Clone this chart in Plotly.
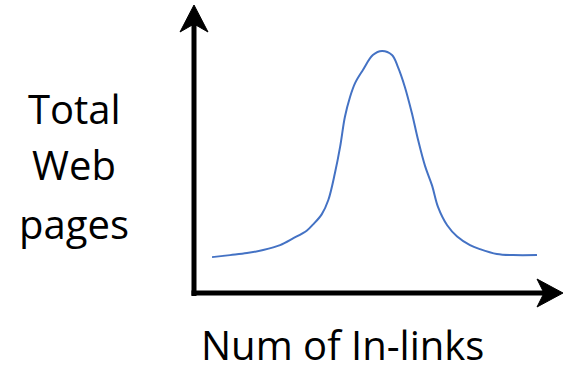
import plotly.graph_objects as go

# ---- data (schematic curve: number of in-links vs total web pages) ----
in_links = [0.49, 0.98, 1.44, 1.88, 2.34, 2.69, 3.07, 3.23, 3.47, 3.65, 3.83, 3.97, 4.10,
            4.24, 4.38, 4.59, 4.86, 5.11, 5.38, 5.54, 5.73, 5.92, 6.09, 6.28, 6.47, 6.63,
            6.88, 7.15, 7.50, 7.77, 8.23, 8.67, 9.32]
total_pages = [1.25, 1.32, 1.39, 1.50, 1.67, 1.90, 2.18, 2.38, 2.74, 3.24, 4.18, 5.09, 6.13,
               6.83, 7.32, 7.77, 8.29, 8.43, 8.29, 7.88, 7.18, 6.27, 5.33, 4.42, 3.74, 3.00,
               2.36, 1.97, 1.67, 1.53, 1.36, 1.32, 1.32]

x_label = "Num of In-links"
y_label_lines = ["Total", "Web", "pages"]

W, H = 570, 371
L, R, T, B = 194, 8, 6, 78          # plot area: x 194..562, y 6..293
PW, PH = W - L - R, H - T - B


def px(xp):
    return (xp - L) / PW


def py(yp):
    return (T + PH - yp) / PH


fig = go.Figure()
fig.add_trace(go.Scatter(x=in_links, y=total_pages, mode="lines",
                         line=dict(color="#4472C4", width=2, shape="spline", smoothing=1.0),
                         hoverinfo="skip", showlegend=False))

shapes = []
# axis shafts
shapes.append(dict(type="line", xref="paper", yref="paper",
                   x0=px(194), y0=py(296), x1=px(194), y1=py(24),
                   line=dict(color="black", width=5)))
shapes.append(dict(type="line", xref="paper", yref="paper",
                   x0=px(191.5), y0=py(293), x1=px(545), y1=py(293),
                   line=dict(color="black", width=5)))
# arrow heads
up = [(194, 5), (208, 32), (194, 24), (180, 32)]
right = [(563, 293), (537, 307), (544, 293), (537, 279)]
for pts in (up, right):
    path = "M " + " L ".join(f"{px(a)},{py(b)}" for a, b in pts) + " Z"
    shapes.append(dict(type="path", xref="paper", yref="paper", path=path,
                       fillcolor="black", line=dict(color="black", width=1)))

font = dict(family="Open Sans", size=40, color="black")
annotations = []
for text, base in zip(y_label_lines, [124, 180, 239]):
    annotations.append(dict(text=text, xref="paper", yref="paper",
                            x=px(74), y=py(base - 15.5), xanchor="center", yanchor="middle",
                            showarrow=False, font=font))
annotations.append(dict(text=x_label, xref="paper", yref="paper",
                        x=px(342), y=py(359.5 - 15.5), xanchor="center", yanchor="middle",
                        showarrow=False, font=font))

fig.update_layout(
    width=W, height=H,
    margin=dict(l=L, r=R, t=T, b=B),
    paper_bgcolor="white", plot_bgcolor="white",
    xaxis=dict(range=[0, 10], visible=False, fixedrange=True),
    yaxis=dict(range=[0, 10], visible=False, fixedrange=True),
    shapes=shapes, annotations=annotations,
)

fig.write_html("out.html", config={"displayModeBar": False},
               post_script="document.body.style.margin='0';document.body.style.overflow='hidden';")
